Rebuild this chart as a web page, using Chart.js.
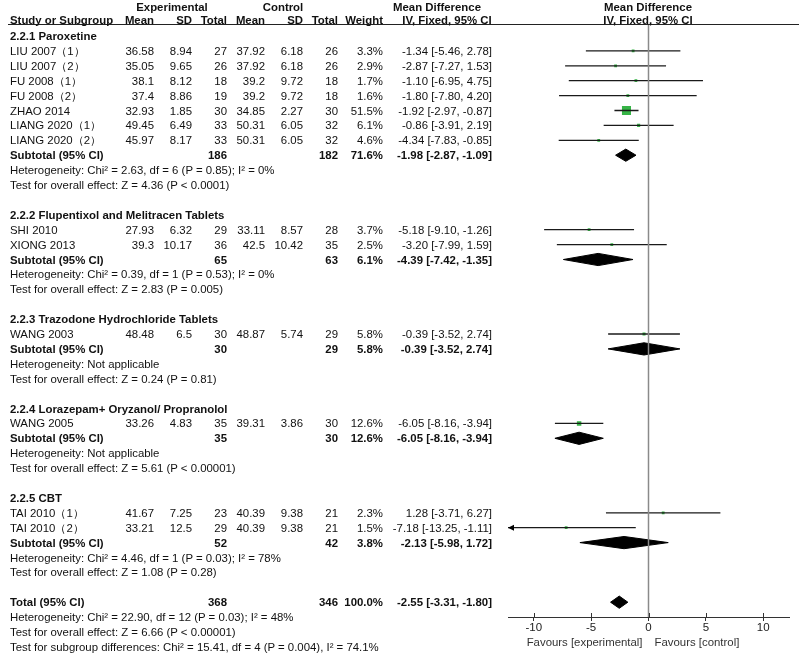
<!DOCTYPE html>
<html><head><meta charset="utf-8">
<script src="https://cdn.jsdelivr.net/npm/chart.js@4.4.0/dist/chart.umd.min.js"></script>
<style>
html,body{margin:0;padding:0;background:#fff;}
#wrap{position:relative;width:800px;height:655px;overflow:hidden;font-family:"Liberation Sans",Arial,sans-serif;font-size:11.4px;color:#111;}
#wrap canvas{position:absolute;left:0;top:0;}
.t{position:absolute;white-space:nowrap;line-height:14px;height:14px;}
.b{font-weight:bold;}
#hline{position:absolute;left:8px;width:791px;top:24px;height:1px;background:#222;}
</style></head><body>
<div id="wrap"><canvas id="c" width="800" height="655"></canvas><div id="hline"></div></div>
<script>
// ---------- data ----------
const groupNames = ["2.2.1 Paroxetine","2.2.2 Flupentixol and Melitracen Tablets","2.2.3 Trazodone Hydrochloride Tablets","2.2.4 Lorazepam+ Oryzanol/ Propranolol","2.2.5 CBT"];
const studyNames = ["LIU 2007\uFF081\uFF09","LIU 2007\uFF082\uFF09","FU 2008\uFF081\uFF09","FU 2008\uFF082\uFF09","ZHAO 2014","LIANG 2020\uFF081\uFF09","LIANG 2020\uFF082\uFF09","SHI 2010","XIONG 2013","WANG 2003","WANG 2005","TAI 2010\uFF081\uFF09","TAI 2010\uFF082\uFF09"];
const studyGroup = [0,0,0,0,0,0,0,1,1,2,3,4,4];
const expMean = [36.58,35.05,38.1,37.4,32.93,49.45,45.97,27.93,39.3,48.48,33.26,41.67,33.21];
const expSD   = [8.94,9.65,8.12,8.86,1.85,6.49,8.17,6.32,10.17,6.5,4.83,7.25,12.5];
const expN    = [27,26,18,19,30,33,33,29,36,30,35,23,29];
const ctlMean = [37.92,37.92,39.2,39.2,34.85,50.31,50.31,33.11,42.5,48.87,39.31,40.39,40.39];
const ctlSD   = [6.18,6.18,9.72,9.72,2.27,6.05,6.05,8.57,10.42,5.74,3.86,9.38,9.38];
const ctlN    = [26,26,18,18,30,32,32,28,35,29,30,21,21];
const weights = [3.3,2.9,1.7,1.6,51.5,6.1,4.6,3.7,2.5,5.8,12.6,2.3,1.5];
const md      = [-1.34,-2.87,-1.10,-1.80,-1.92,-0.86,-4.34,-5.18,-3.20,-0.39,-6.05,1.28,-7.18];
const ciLow   = [-5.46,-7.27,-6.95,-7.80,-2.97,-3.91,-7.83,-9.10,-7.99,-3.52,-8.16,-3.71,-13.25];
const ciHigh  = [2.78,1.53,4.75,4.20,-0.87,2.19,-0.85,-1.26,1.59,2.74,-3.94,6.27,-1.11];

const subExpN   = [186,65,30,35,52];
const subCtlN   = [182,63,29,30,42];
const subWeight = [71.6,6.1,5.8,12.6,3.8];
const subMD     = [-1.98,-4.39,-0.39,-6.05,-2.13];
const subLow    = [-2.87,-7.42,-3.52,-8.16,-5.98];
const subHigh   = [-1.09,-1.35,2.74,-3.94,1.72];
const hetTexts = ["Heterogeneity: Chi\u00B2 = 2.63, df = 6 (P = 0.85); I\u00B2 = 0%","Heterogeneity: Chi\u00B2 = 0.39, df = 1 (P = 0.53); I\u00B2 = 0%","Heterogeneity: Not applicable","Heterogeneity: Not applicable","Heterogeneity: Chi\u00B2 = 4.46, df = 1 (P = 0.03); I\u00B2 = 78%"];
const effectTexts = ["Test for overall effect: Z = 4.36 (P < 0.0001)","Test for overall effect: Z = 2.83 (P = 0.005)","Test for overall effect: Z = 0.24 (P = 0.81)","Test for overall effect: Z = 5.61 (P < 0.00001)","Test for overall effect: Z = 1.08 (P = 0.28)"];

const totalExpN = 368, totalCtlN = 346, totalWeight = 100.0;
const totalMD = -2.55, totalLow = -3.31, totalHigh = -1.80;
const totalTexts = ["Heterogeneity: Chi\u00B2 = 22.90, df = 12 (P = 0.03); I\u00B2 = 48%","Test for overall effect: Z = 6.66 (P < 0.00001)","Test for subgroup differences: Chi\u00B2 = 15.41, df = 4 (P = 0.004), I\u00B2 = 74.1%"];

const xTicks = [-10,-5,0,5,10];
const xMin = -12.25, xMax = 12.25;
const favourLabels = ["Favours [experimental]","Favours [control]"];

// ---------- layout ----------
const W = 800, H = 655;
const ROW0 = 36, ROWH = 14.9, PLOT_TOP = 24.5, PLOT_BOTTOM = 617;
const COL = {label:10, expMean:154, expSD:192, expN:227, ctlMean:265, ctlSD:303, ctlN:338, weight:383, ci:492};
const rowY = i => ROW0 + ROWH*i;
const wrap = document.getElementById('wrap');
function put(text, x, yc, align, bold, color){
  const d = document.createElement('div');
  d.className = 't' + (bold ? ' b' : '');
  d.textContent = text;
  d.style.top = (yc - 7) + 'px';
  if (color) d.style.color = color;
  if (align === 'left') d.style.left = x + 'px';
  else if (align === 'right') d.style.right = (W - x) + 'px';
  else { d.style.left = (x - 200) + 'px'; d.style.width = '400px'; d.style.textAlign = 'center'; }
  wrap.appendChild(d);
}
const fmtCI = (m,l,h) => m.toFixed(2) + ' [' + l.toFixed(2) + ', ' + h.toFixed(2) + ']';

// headers
const HY1 = 6.5, HY2 = 19.5;
put('Experimental', 172, HY1, 'center', true);
put('Control', 283, HY1, 'center', true);
put('Mean Difference', 437, HY1, 'center', true);
put('Mean Difference', 648, HY1, 'center', true);
put('Study or Subgroup', COL.label, HY2, 'left', true);
put('Mean', COL.expMean, HY2, 'right', true);
put('SD', COL.expSD, HY2, 'right', true);
put('Total', COL.expN, HY2, 'right', true);
put('Mean', COL.ctlMean, HY2, 'right', true);
put('SD', COL.ctlSD, HY2, 'right', true);
put('Total', COL.ctlN, HY2, 'right', true);
put('Weight', COL.weight, HY2, 'right', true);
put('IV, Fixed, 95% CI', 447, HY2, 'center', true);
put('IV, Fixed, 95% CI', 648, HY2, 'center', true);

// rows
const studyRow = [], subRow = [];
let r = 0;
groupNames.forEach((g, gi) => {
  put(g, COL.label, rowY(r), 'left', true); r++;
  studyNames.forEach((s, si) => {
    if (studyGroup[si] !== gi) return;
    studyRow[si] = r;
    const y = rowY(r);
    put(s, COL.label, y, 'left');
    put(String(expMean[si]), COL.expMean, y, 'right');
    put(String(expSD[si]), COL.expSD, y, 'right');
    put(String(expN[si]), COL.expN, y, 'right');
    put(String(ctlMean[si]), COL.ctlMean, y, 'right');
    put(String(ctlSD[si]), COL.ctlSD, y, 'right');
    put(String(ctlN[si]), COL.ctlN, y, 'right');
    put(weights[si].toFixed(1) + '%', COL.weight, y, 'right');
    put(fmtCI(md[si], ciLow[si], ciHigh[si]), COL.ci, y, 'right');
    r++;
  });
  subRow[gi] = r;
  let y = rowY(r);
  put('Subtotal (95% CI)', COL.label, y, 'left', true);
  put(String(subExpN[gi]), COL.expN, y, 'right', true);
  put(String(subCtlN[gi]), COL.ctlN, y, 'right', true);
  put(subWeight[gi].toFixed(1) + '%', COL.weight, y, 'right', true);
  put(fmtCI(subMD[gi], subLow[gi], subHigh[gi]), COL.ci, y, 'right', true);
  r++;
  put(hetTexts[gi], COL.label, rowY(r), 'left'); r++;
  put(effectTexts[gi], COL.label, rowY(r), 'left'); r++;
  r++;
});
const totalRow = r;
put('Total (95% CI)', COL.label, rowY(r), 'left', true);
put(String(totalExpN), COL.expN, rowY(r), 'right', true);
put(String(totalCtlN), COL.ctlN, rowY(r), 'right', true);
put(totalWeight.toFixed(1) + '%', COL.weight, rowY(r), 'right', true);
put(fmtCI(totalMD, totalLow, totalHigh), COL.ci, rowY(r), 'right', true);
r++;
totalTexts.forEach(t => { put(t, COL.label, rowY(r), 'left'); r++; });

// ---------- chart ----------
const yMin = (PLOT_TOP - ROW0) / ROWH, yMax = (PLOT_BOTTOM - ROW0) / ROWH;
const GREEN = '#36b446';
const DH = 0.41; // diamond half-height in row units
const datasets = [];
datasets.push({ data:[{x:0,y:yMin},{x:0,y:yMax}], borderColor:'#8a8a8a', borderWidth:1.5, pointRadius:0, fill:false });
studyNames.forEach((s, si) => {
  datasets.push({ data:[{x:ciLow[si],y:studyRow[si]},{x:ciHigh[si],y:studyRow[si]}], borderColor:'#1a1a1a', borderWidth:1.3, pointRadius:0, fill:false });
});
datasets.push({
  data: studyNames.map((s, si) => ({x: md[si], y: studyRow[si]})),
  showLine:false, pointStyle:'rect',
  pointRadius: weights.map(w => Math.max(2.8, 1.26*Math.sqrt(w)) / 1.4142),
  pointBackgroundColor: GREEN, pointBorderWidth:0, pointBorderColor: GREEN
});
const diamonds = subMD.map((m, gi) => [m, subLow[gi], subHigh[gi], subRow[gi]]).concat([[totalMD, totalLow, totalHigh, totalRow]]);
diamonds.forEach(([m, l, h, row]) => {
  datasets.push({ data:[{x:l,y:row},{x:m,y:row-DH},{x:h,y:row},{x:m,y:row+DH},{x:l,y:row}],
    borderColor:'#000', borderWidth:1, backgroundColor:'#000', fill:'shape', pointRadius:0 });
});

const extras = {
  id:'extras',
  afterDatasetsDraw(chart){
    const {ctx, chartArea, scales:{x, y}} = chart;
    ctx.save();
    ctx.fillStyle = '#000';
    studyNames.forEach((s, si) => {
      const py = y.getPixelForValue(studyRow[si]);
      if (ciLow[si] < xMin) {
        const px = chartArea.left;
        ctx.beginPath(); ctx.moveTo(px, py); ctx.lineTo(px+6, py-3); ctx.lineTo(px+6, py+3); ctx.closePath(); ctx.fill();
      }
      if (ciHigh[si] > xMax) {
        const px = chartArea.right;
        ctx.beginPath(); ctx.moveTo(px, py); ctx.lineTo(px-6, py-3); ctx.lineTo(px-6, py+3); ctx.closePath(); ctx.fill();
      }
    });
    ctx.restore();
  },
  afterDraw(chart){
    const {ctx, chartArea, scales:{x}} = chart;
    ctx.save();
    ctx.strokeStyle = '#333'; ctx.lineWidth = 1;
    x.ticks.forEach(t => {
      const px = Math.round(x.getPixelForValue(t.value)) + 0.5;
      ctx.beginPath(); ctx.moveTo(px, chartArea.bottom - 4); ctx.lineTo(px, chartArea.bottom); ctx.stroke();
    });
    ctx.restore();
  }
};

const chart = new Chart(document.getElementById('c'), {
  type:'line',
  data:{ datasets },
  options:{
    responsive:false, animation:false, devicePixelRatio:1, events:[],
    layout:{ padding:{ left:508, right:W-789, top:PLOT_TOP, bottom:8 } },
    plugins:{ legend:{display:false}, tooltip:{enabled:false} },
    elements:{ line:{ tension:0 } },
    scales:{
      x:{ type:'linear', min:xMin, max:xMax,
        afterBuildTicks: s => { s.ticks = xTicks.map(v => ({value:v})); },
        afterFit: s => { s.height = 30; },
        grid:{ drawOnChartArea:false, drawTicks:true, tickLength:4, color:'#333' },
        border:{ display:true, color:'#333', width:1 },
        ticks:{ padding:0, color:'#222', font:{ family:'"Liberation Sans", Arial, sans-serif', size:11.5 }, autoSkip:false, maxRotation:0 }
      },
      y:{ type:'linear', display:false, reverse:true, min:yMin, max:yMax }
    }
  },
  plugins:[extras]
});

const zeroPx = chart.scales.x.getPixelForValue(0);
const fy = 642;
(function(){
  const a = document.createElement('div');
  a.className = 't'; a.textContent = favourLabels[0];
  a.style.top = (fy-7)+'px'; a.style.right = (W - (zeroPx - 6)) + 'px'; a.style.color = '#333';
  wrap.appendChild(a);
  const b = document.createElement('div');
  b.className = 't'; b.textContent = favourLabels[1];
  b.style.top = (fy-7)+'px'; b.style.left = (zeroPx + 6) + 'px'; b.style.color = '#333';
  wrap.appendChild(b);
})();
</script>
</body></html>
